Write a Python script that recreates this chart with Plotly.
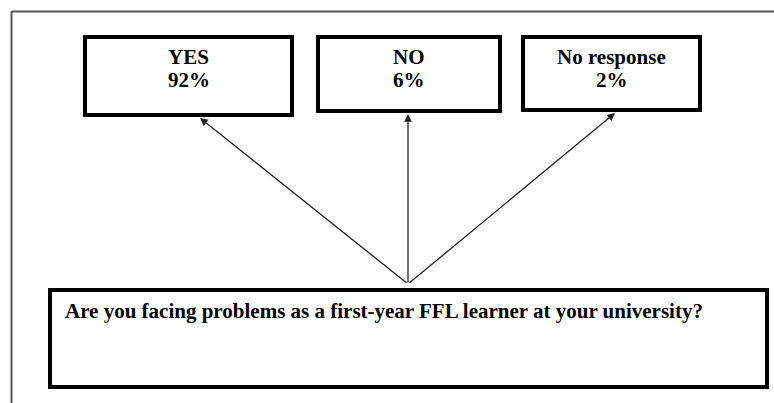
import plotly.graph_objects as go

categories = ["YES", "NO", "No response"]
percentages = [92, 6, 2]
question = "Are you facing problems as a first-year FFL learner at your university?"

# layout geometry (pixels, y downwards)
box_x0 = [85, 318, 523]
box_x1 = [292, 500, 700]
box_y0 = [37, 37, 37]
box_y1 = [115, 111, 110]
arrow_tip_x = [200, 408, 615]
origin = (408, 284)

W, H = 774, 403
fig = go.Figure()

font = dict(family="Liberation Serif", size=21, color="black")
shapes = []
annotations = []

# outer frame (left + top)
frame_line = dict(color="#555555", width=2)
shapes.append(dict(type="line", x0=11.5, x1=11.5, y0=11.5, y1=H, xref="x", yref="y", line=frame_line))
shapes.append(dict(type="line", x0=11.5, x1=W, y0=11.5, y1=11.5, xref="x", yref="y", line=frame_line))

for i, (cat, pct) in enumerate(zip(categories, percentages)):
    shapes.append(dict(type="rect", xref="x", yref="y", x0=box_x0[i], x1=box_x1[i], y0=box_y0[i], y1=box_y1[i],
                       line=dict(color="black", width=4), fillcolor="white"))
    cx = (box_x0[i] + box_x1[i]) / 2
    annotations.append(dict(x=cx, y=57, xref="x", yref="y", text=f"<b>{cat}</b>",
                            showarrow=False, font=font, align="center", yanchor="middle"))
    annotations.append(dict(x=cx, y=80, xref="x", yref="y", text=f"<b>{pct}%</b>",
                            showarrow=False, font=font, align="center", yanchor="middle"))
    annotations.append(dict(x=arrow_tip_x[i], y=box_y1[i] + 3, ax=origin[0], ay=origin[1], xref="x", yref="y",
                            axref="x", ayref="y", text="", showarrow=True, arrowhead=2, arrowsize=1.2,
                            arrowwidth=1.3, arrowcolor="#222222", standoff=0))

# question box
shapes.append(dict(type="rect", xref="x", yref="y", x0=50, x1=767, y0=290, y1=387,
                   line=dict(color="black", width=4), fillcolor="white"))
annotations.append(dict(x=63, y=311, xref="x", yref="y", text=f"<b>{question}</b>", showarrow=False,
                        font=font, xanchor="left", yanchor="middle"))

fig.update_layout(
    width=W, height=H, margin=dict(l=0, r=0, t=0, b=0),
    paper_bgcolor="white", plot_bgcolor="white",
    xaxis=dict(range=[0, W], visible=False, fixedrange=True),
    yaxis=dict(range=[H, 0], visible=False, fixedrange=True),
    shapes=shapes, annotations=annotations, showlegend=False,
)
fig.write_html("out.html", config={"displayModeBar": False},
               post_script="document.body.style.margin='0';document.body.style.overflow='hidden';")
